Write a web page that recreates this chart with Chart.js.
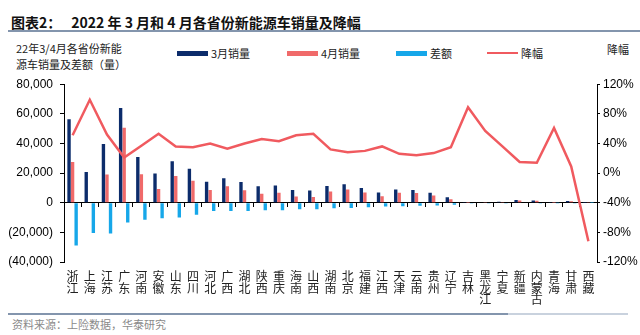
<!DOCTYPE html>
<html>
<head>
<meta charset="utf-8">
<script src="https://cdn.jsdelivr.net/npm/chart.js@4/dist/chart.umd.min.js"></script>
<style>
  html, body { margin: 0; padding: 0; background: #fff; }
  #wrap { position: relative; width: 640px; height: 335px; overflow: hidden; font-family: "Noto Sans CJK SC", "Liberation Sans", sans-serif; }
  .abs { position: absolute; white-space: nowrap; }
  #title { left: 11px; top: 12px; font-size: 14px; font-weight: bold; color: #111; }
  #title span { margin-left: 10px; }
  .rule { position: absolute; height: 1.5px; background: #8395ad; }
  #ytitle { left: 16px; top: 40px; font-size: 11px; line-height: 16px; color: #222; }
  #y1title { left: 607px; top: 41px; font-size: 11px; color: #222; }
  .leg { top: 45px; font-size: 11px; color: #222; display: flex; align-items: center; }
  .leg i { display: inline-block; width: 31px; margin-right: 3px; }
  #src { left: 12px; top: 316px; font-size: 11px; color: #8a8a8a; }
  canvas { position: absolute; left: 0; top: 70px; }
</style>
</head>
<body>
<div id="wrap">
  <div id="title" class="abs">图表2：<span>2022 年 3 月和 4 月各省份新能源车销量及降幅</span></div>
  <div class="rule" style="left:8px; right:0; top:30px;"></div>
  <div id="ytitle" class="abs">22年3/4月各省份新能<br>源车销量及差额（量）</div>
  <div class="abs leg" style="left:177px;"><i style="height:5px;background:#0c2c6b"></i>3月销量</div>
  <div class="abs leg" style="left:287px;"><i style="height:5px;background:#f06a6a"></i>4月销量</div>
  <div class="abs leg" style="left:396px;"><i style="height:5px;background:#16a7e9"></i>差额</div>
  <div class="abs leg" style="left:487px;"><i style="height:2px;background:#f05a5f"></i>降幅</div>
  <div id="y1title" class="abs">降幅</div>
  <canvas id="c" width="640" height="240"></canvas>
  <div class="rule" style="left:8px; width:500px; top:313px;"></div>
  <div class="rule" style="left:508px; width:120px; top:313px; background:#c9d2de;"></div>
  <div id="src" class="abs">资料来源：上险数据，华泰研究</div>
</div>
<script>
const provinces = ["浙江", "上海", "江苏", "广东", "河南", "安徽", "山东", "四川", "河北", "广西",
  "湖北", "陕西", "重庆", "海南", "山西", "湖南", "北京", "福建", "江西", "天津",
  "云南", "贵州", "辽宁", "吉林", "黑龙江", "宁夏", "新疆", "内蒙古", "青海", "甘肃", "西藏"];

// 3月销量 (辆)
const marchSales = [56300, 20800, 39700, 64000, 30800, 19700, 28000, 23000, 14200, 16600,
  14000, 11100, 11700, 8600, 8200, 11300, 12400, 10000, 6900, 9000,
  8600, 6700, 3700, 500, 350, 700, 1800, 1550, 150, 1100, 60];

// 4月销量 (辆)
const aprilSales = [27500, 300, 19000, 50600, 19300, 9300, 18000, 14900, 8600, 11100,
  8400, 6000, 6700, 4200, 3800, 7600, 8900, 6900, 4400, 6700,
  6500, 4900, 2400, 55, 150, 450, 1530, 1330, 58, 1000, 115];

// 差额 (4月 - 3月)
const diffSales = [-28800, -20500, -20700, -13400, -11500, -10400, -10000, -8100, -5600, -5500,
  -5600, -5100, -5000, -4400, -4400, -3700, -3500, -3100, -2500, -2300,
  -2100, -1800, -1300, -445, -200, -250, -270, -220, -92, -100, 55];

// 降幅 (%)
const dropPct = [51, 99, 52, 21, 37, 53, 36, 35, 40, 33,
  40, 46, 43, 51, 53, 32, 28, 30, 36, 26,
  24, 27, 35, 89, 57, 36, 15, 14, 61, 9, -92];

const leftTicks = { min: -40000, max: 80000, step: 20000 };
const rightTicks = { min: -120, max: 120, step: 40 };

const tickFont = { family: "Liberation Sans", size: 12 };

function fmtVol(v) {
  const s = Math.abs(v).toLocaleString("en-US");
  return v < 0 ? "(" + s + ")" : s;
}

new Chart(document.getElementById("c"), {
  type: "bar",
  data: {
    labels: provinces,
    datasets: [
      { label: "降幅", type: "line", data: dropPct, yAxisID: "y1", order: 0,
        borderColor: "#f05a5f", borderWidth: 2.5, pointRadius: 0, tension: 0, fill: false },
      { label: "3月销量", data: marchSales, backgroundColor: "#0c2c6b", order: 1 },
      { label: "4月销量", data: aprilSales, backgroundColor: "#f06a6a", order: 1 },
      { label: "差额", data: diffSales, backgroundColor: "#16a7e9", order: 1 }
    ]
  },
  options: {
    responsive: false,
    animation: false,
    datasets: { bar: { categoryPercentage: 0.62, barPercentage: 0.95 } },
    layout: { padding: { top: 12, left: 0, right: 0, bottom: 0 } },
    plugins: { legend: { display: false }, tooltip: { enabled: false } },
    scales: {
      x: {
        grid: { display: false, drawTicks: false },
        border: { display: false },
        ticks: {
          autoSkip: false, maxRotation: 0, padding: 9, color: "#222",
          font: { family: "Noto Sans CJK SC", size: 12, lineHeight: 0.95 },
          callback: (v, i) => Array.from(provinces[i])
        },
        afterFit(s) { s.height = 48; }
      },
      xZero: {
        type: "category",
        position: { y: 0 },
        ticks: { display: false },
        grid: { display: true, offset: true, drawOnChartArea: false, drawTicks: true, tickLength: 4, color: "#000" },
        border: { display: true, color: "#000", width: 1 }
      },
      y: {
        position: "left",
        min: leftTicks.min, max: leftTicks.max,
        ticks: { stepSize: leftTicks.step, color: "#000", font: tickFont, padding: 7, callback: fmtVol },
        grid: { display: true, drawOnChartArea: false, drawTicks: true, tickLength: 4, color: "#000" },
        border: { display: true, color: "#000", width: 1 },
        afterFit(s) { s.width = 64; }
      },
      y1: {
        position: "right",
        min: rightTicks.min, max: rightTicks.max,
        ticks: { stepSize: rightTicks.step, color: "#000", font: tickFont, padding: 3, callback: v => v + "%" },
        grid: { display: true, drawOnChartArea: false, drawTicks: true, tickLength: 3, color: "#000" },
        border: { display: true, color: "#000", width: 1 },
        afterFit(s) { s.width = 43; }
      }
    }
  }
});
</script>
</body>
</html>
